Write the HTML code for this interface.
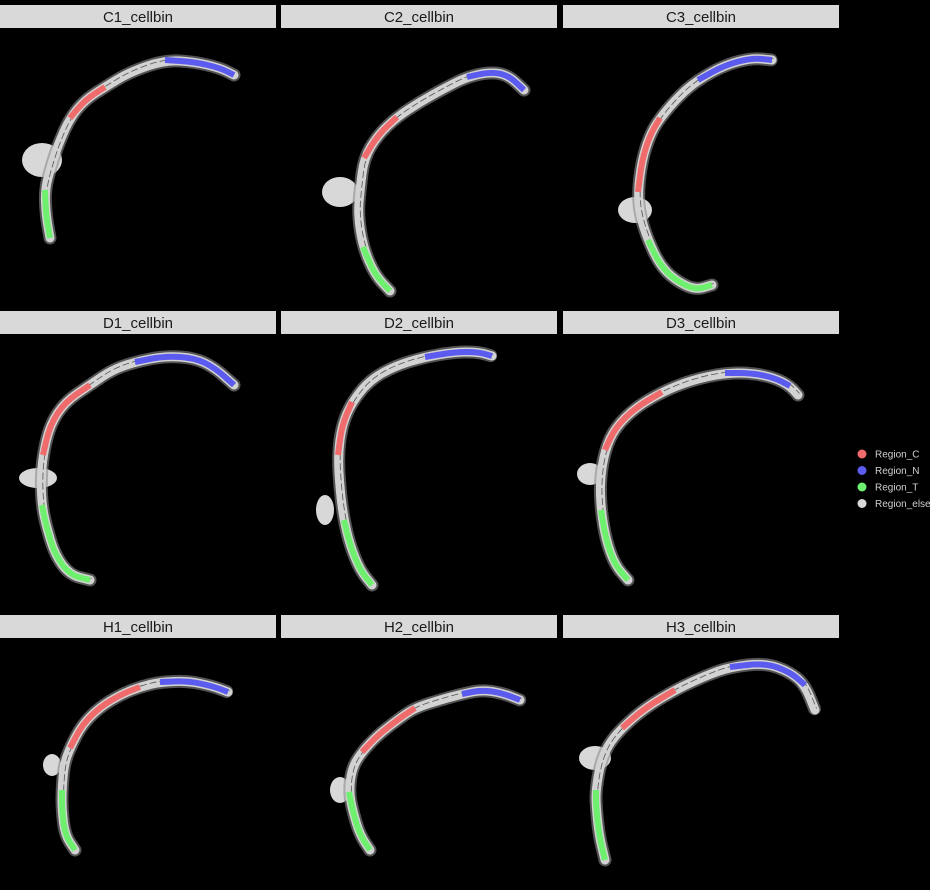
<!DOCTYPE html>
<html><head><meta charset="utf-8"><style>
html,body{margin:0;padding:0;background:#000;}
svg{display:block;}
text{font-family:"Liberation Sans","DejaVu Sans",sans-serif;}
</style></head><body>
<svg id="chart" width="930" height="890" viewBox="0 0 930 890">
<rect width="930" height="890" fill="#000"/>
<g id="panels"></g>
<g id="legend"></g>
</svg>
<script>
const regionNames = ["Region_C","Region_N","Region_T","Region_else"];
const regionColors = {C:"#f06b6b",N:"#5b5bf0",T:"#6ef06e",E:"#d8d8d8"};
const sampleTitles = ["C1_cellbin","C2_cellbin","C3_cellbin","D1_cellbin","D2_cellbin","D3_cellbin","H1_cellbin","H2_cellbin","H3_cellbin"];
// Tissue centerline points [x,y,regionOfSegmentToNext]
const tissueC1 = [[50,238,"T"],[46,215,"T"],[45,190,"E"],[50,170,"E"],[58,145,"E"],[70,118,"C"],[85,100,"C"],[105,87,"E"],[130,72,"E"],[165,60,"N"],[195,62,"N"],[220,68,"N"],[234,75,"N"]];
const tissueC2 = [[390,291,"T"],[375,275,"T"],[363,247,"E"],[358,215,"E"],[360,190,"E"],[364,158,"C"],[378,135,"C"],[397,117,"E"],[420,102,"E"],[445,88,"E"],[467,77,"N"],[490,72,"N"],[508,75,"N"],[524,90,"N"]];
const tissueC3 = [[712,285,"T"],[695,290,"T"],[675,280,"T"],[660,265,"T"],[648,240,"E"],[640,215,"E"],[638,192,"C"],[642,160,"C"],[650,135,"C"],[660,118,"E"],[680,95,"E"],[698,80,"N"],[725,65,"N"],[752,58,"N"],[772,60,"N"]];
const tissueD1 = [[90,580,"T"],[70,575,"T"],[55,555,"T"],[46,525,"T"],[42,505,"E"],[41,480,"E"],[43,455,"C"],[50,425,"C"],[65,402,"C"],[90,385,"E"],[112,370,"E"],[135,362,"N"],[165,356,"N"],[195,358,"N"],[215,368,"N"],[234,385,"E"]];
const tissueD2 = [[372,585,"T"],[360,570,"T"],[350,545,"T"],[344,520,"E"],[340,490,"E"],[338,455,"C"],[342,425,"C"],[352,402,"E"],[370,380,"E"],[395,366,"E"],[425,357,"N"],[455,352,"N"],[478,352,"N"],[492,356,"N"]];
const tissueD3 = [[628,580,"T"],[615,565,"T"],[606,540,"T"],[601,510,"E"],[600,480,"E"],[605,450,"C"],[615,428,"C"],[635,408,"C"],[662,392,"E"],[692,380,"E"],[725,373,"N"],[752,373,"N"],[775,378,"N"],[790,386,"E"],[798,395,"E"]];
const tissueH1 = [[75,850,"T"],[65,835,"T"],[62,810,"T"],[62,790,"E"],[64,765,"E"],[70,748,"C"],[82,725,"C"],[100,707,"C"],[122,694,"C"],[140,687,"E"],[160,682,"N"],[188,681,"N"],[212,686,"N"],[228,692,"N"]];
const tissueH2 = [[370,850,"T"],[360,835,"T"],[353,812,"T"],[349,792,"E"],[352,768,"E"],[362,752,"C"],[378,735,"C"],[400,718,"C"],[415,708,"E"],[440,700,"E"],[462,694,"N"],[482,690,"N"],[502,693,"N"],[520,700,"N"]];
const tissueH3 = [[605,860,"T"],[599,835,"T"],[596,805,"T"],[596,790,"E"],[600,765,"E"],[608,745,"E"],[622,728,"C"],[645,708,"C"],[675,690,"E"],[705,676,"E"],[730,667,"N"],[765,663,"N"],[790,672,"N"],[805,685,"E"],[815,710,"E"]];
// Tissue blobs [cx,cy,rx,ry]
const blobs = [[42,160,20,17],[340,192,18,15],[635,210,17,13],[38,478,19,10],[325,510,9,15],[590,474,13,11],[52,765,9,11],[340,790,10,13],[595,758,16,12]];
const tissues = [tissueC1,tissueC2,tissueC3,tissueD1,tissueD2,tissueD3,tissueH1,tissueH2,tissueH3];
const headerX = [0,281,563];
const headerY = [5,311,615];

const NS="http://www.w3.org/2000/svg";
const panels=document.getElementById("panels");
function mk(tag,attrs,parent){const e=document.createElementNS(NS,tag);for(const k in attrs)e.setAttribute(k,attrs[k]);parent.appendChild(e);return e;}
function smooth(pts){
  if(pts.length<3) return pts.map((p,i)=>(i?"L":"M")+p[0]+","+p[1]).join(" ");
  let d="M"+pts[0][0]+","+pts[0][1];
  const m0=[(pts[0][0]+pts[1][0])/2,(pts[0][1]+pts[1][1])/2];
  d+=" L"+m0[0]+","+m0[1];
  for(let i=1;i<pts.length-1;i++){
    const mx=(pts[i][0]+pts[i+1][0])/2, my=(pts[i][1]+pts[i+1][1])/2;
    d+=" Q"+pts[i][0]+","+pts[i][1]+" "+mx+","+my;
  }
  const l=pts[pts.length-1];
  d+=" L"+l[0]+","+l[1];
  return d;
}

tissues.forEach((pts,i)=>{
  const g=mk("g",{},panels);
  
  
  const hx=headerX[i%3], hy=headerY[Math.floor(i/3)];
  const hr=mk("rect",{x:hx,y:hy,width:276,height:23,fill:"#d9d9d9"},g);
  
  
  const ht=mk("text",{x:hx+138,y:hy+17,"text-anchor":"middle","font-size":"15",fill:"#1a1a1a"},g);
  ht.textContent=sampleTitles[i];
  
  
  const b=blobs[i];
  const bl=mk("ellipse",{cx:b[0],cy:b[1],rx:b[2],ry:b[3],fill:"#d8d8d8"},g);
  
  
  const d=smooth(pts);
  mk("path",{d:d,fill:"none",stroke:"#8a8a8a","stroke-width":13,"stroke-linecap":"round","stroke-linejoin":"round","stroke-dasharray":"2 2",opacity:"0.6"},g);
  const outer=mk("path",{d:d,fill:"none",stroke:"#d2d2d2","stroke-width":9,"stroke-linecap":"round","stroke-linejoin":"round"},g);
  
  
  mk("path",{d:d,fill:"none",stroke:"#555","stroke-width":0.8,"stroke-dasharray":"7 3",transform:"translate(1.5,-1.5)"},g);
  // colored runs
  let k=0;
  while(k<pts.length-1){
    const r=pts[k][2];
    let j=k;
    while(j<pts.length-1 && pts[j][2]===r) j++;
    if(r!=="E"){
      const s=mk("path",{d:smooth(pts.slice(k,j+1)),fill:"none",stroke:regionColors[r],"stroke-width":6,"stroke-linecap":"butt","stroke-linejoin":"round"},g);
      
      
    }
    k=j;
  }
});

const legend=document.getElementById("legend");
const legendKeys=["C","N","T","E"];
regionNames.forEach((n,i)=>{
  const y=454+i*16.5;
  const c=mk("circle",{cx:862,cy:y,r:4.5,fill:regionColors[legendKeys[i]]},legend);
  
  
  const t=mk("text",{x:875,y:y+3.5,"font-size":"10",fill:"#d0d0d0"},legend);
  t.textContent=n;
  
  
});
</script>
</body></html>
